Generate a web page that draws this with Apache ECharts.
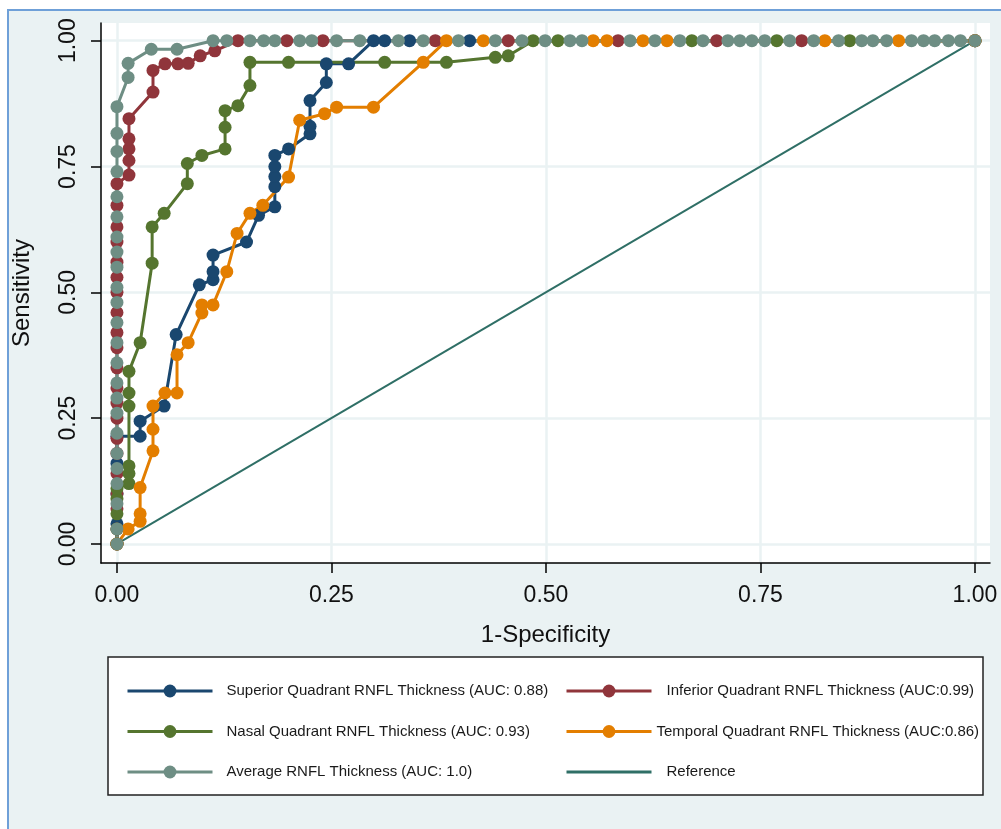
<!DOCTYPE html>
<html>
<head>
<meta charset="utf-8">
<title>ROC curves RNFL thickness</title>
<script src="https://cdn.jsdelivr.net/npm/echarts@6/dist/echarts.min.js"></script>
<style>
    html, body {margin: 0; padding: 0; background: #fff;}
    #roc_chart {width: 1001px; height: 829px;}
</style>
</head>
<body>
<div id="roc_chart"></div>
<script>
// tick positions on both axes
var tickValues = [0, 0.25, 0.5, 0.75, 1];

// Superior quadrant (1-specificity / sensitivity)
var superiorX = [0, 0, 0, 0, 0, 0.027, 0.027, 0.055, 0.069, 0.096, 0.112, 0.112, 0.112, 0.151, 0.165, 0.184, 0.184, 0.184, 0.184, 0.184, 0.2, 0.225, 0.225, 0.225, 0.244, 0.244, 0.27, 0.299, 0.312, 0.341, 0.411, 1];
var superiorY = [0, 0.04, 0.1, 0.16, 0.214, 0.214, 0.244, 0.274, 0.416, 0.515, 0.525, 0.541, 0.574, 0.6, 0.653, 0.67, 0.71, 0.73, 0.75, 0.772, 0.785, 0.815, 0.83, 0.881, 0.917, 0.954, 0.954, 1, 1, 1, 1, 1];

// Inferior quadrant
var inferiorX = [0, 0, 0, 0, 0, 0, 0, 0, 0, 0, 0, 0, 0, 0, 0, 0, 0, 0, 0, 0, 0, 0.014, 0.014, 0.014, 0.014, 0.014, 0.042, 0.042, 0.056, 0.071, 0.083, 0.097, 0.114, 0.141, 0.198, 0.24, 0.371, 0.456, 0.584, 0.699, 0.798, 1];
var inferiorY = [0, 0.03, 0.07, 0.1, 0.14, 0.18, 0.21, 0.25, 0.28, 0.31, 0.35, 0.39, 0.42, 0.46, 0.5, 0.53, 0.56, 0.6, 0.63, 0.673, 0.716, 0.733, 0.762, 0.785, 0.805, 0.845, 0.898, 0.941, 0.954, 0.954, 0.955, 0.97, 0.98, 1, 1, 1, 1, 1, 1, 1, 1, 1];

// Nasal quadrant
var nasalX = [0, 0, 0, 0, 0, 0.014, 0.014, 0.014, 0.014, 0.014, 0.014, 0.027, 0.041, 0.041, 0.055, 0.082, 0.082, 0.099, 0.126, 0.126, 0.126, 0.141, 0.155, 0.155, 0.2, 0.312, 0.384, 0.441, 0.456, 0.485, 0.514, 0.67, 0.769, 0.854, 1];
var nasalY = [0, 0.03, 0.06, 0.09, 0.11, 0.12, 0.14, 0.155, 0.274, 0.3, 0.343, 0.4, 0.558, 0.63, 0.657, 0.716, 0.756, 0.772, 0.785, 0.828, 0.861, 0.871, 0.911, 0.957, 0.957, 0.957, 0.957, 0.967, 0.97, 1, 1, 1, 1, 1, 1];

// Temporal quadrant
var temporalX = [0, 0.013, 0.027, 0.027, 0.027, 0.042, 0.042, 0.042, 0.056, 0.07, 0.07, 0.083, 0.099, 0.099, 0.112, 0.128, 0.14, 0.155, 0.17, 0.2, 0.213, 0.242, 0.256, 0.299, 0.357, 0.384, 0.427, 0.555, 0.571, 0.613, 0.641, 0.825, 0.911, 1];
var temporalY = [0, 0.03, 0.045, 0.06, 0.112, 0.185, 0.228, 0.274, 0.3, 0.3, 0.376, 0.4, 0.459, 0.475, 0.475, 0.541, 0.617, 0.657, 0.673, 0.729, 0.842, 0.855, 0.868, 0.868, 0.957, 1, 1, 1, 1, 1, 1, 1, 1, 1];

// Average RNFL
var averageX = [0, 0, 0, 0, 0, 0, 0, 0, 0, 0, 0, 0, 0, 0, 0, 0, 0, 0, 0, 0, 0, 0, 0, 0, 0.013, 0.013, 0.04, 0.07,
    0.112, 0.128, 0.155, 0.171, 0.184, 0.213, 0.227, 0.256, 0.283, 0.328, 0.357, 0.398, 0.441, 0.472, 0.499, 0.528, 0.542, 0.598, 0.627,
    0.656, 0.683, 0.712, 0.726, 0.74, 0.755, 0.784, 0.812, 0.841, 0.868, 0.881, 0.897, 0.926, 0.94, 0.953, 0.969, 0.983, 1];
var averageY = [0, 0.03, 0.08, 0.12, 0.15, 0.18, 0.22, 0.26, 0.29, 0.32, 0.36, 0.4, 0.44, 0.48, 0.51, 0.55, 0.58, 0.61, 0.65, 0.69, 0.74, 0.78, 0.816, 0.869, 0.927, 0.955, 0.983, 0.983,
    1, 1, 1, 1, 1, 1, 1, 1, 1, 1, 1, 1, 1, 1, 1, 1, 1, 1, 1,
    1, 1, 1, 1, 1, 1, 1, 1, 1, 1, 1, 1, 1, 1, 1, 1, 1, 1];

// diagonal reference
var referenceX = [0, 1];
var referenceY = [0, 1];

var seriesNames = [
    'Superior Quadrant RNFL Thickness (AUC: 0.88)',
    'Inferior Quadrant RNFL Thickness (AUC:0.99)',
    'Nasal Quadrant RNFL Thickness (AUC: 0.93)',
    'Temporal Quadrant RNFL Thickness (AUC:0.86)',
    'Average RNFL Thickness (AUC: 1.0)',
    'Reference'
];
var seriesColors = ['#1a476f', '#90353b', '#55752f', '#e37e00', '#6e8e84', '#2f6f66'];

var FONT = '"Liberation Sans", Arial, sans-serif';

/**
 * 把两个数组拼成 [x, y] 点
 */
function toPoints(xs, ys) {
    var pts = [];
    for (var i = 0; i < xs.length; i++) {
        pts.push([xs[i], ys[i]]);
    }
    return pts;
}

function rocSeries(idx, xs, ys) {
    return {
        name: seriesNames[idx],
        type: 'line',
        data: toPoints(xs, ys),
        symbol: 'circle',
        symbolSize: 13,
        showAllSymbol: true,
        itemStyle: {color: seriesColors[idx]},
        lineStyle: {color: seriesColors[idx], width: 3},
        animation: false
    };
}

function legendItem(name, pad, hideMarker) {
    var item = {name: name, textStyle: {padding: [0, 0, 0, pad]}};
    if (hideMarker) {
        // 参考线图例只画线
        item.itemStyle = {color: 'rgba(0,0,0,0)', borderWidth: 0, opacity: 0};
    }
    return item;
}

var chartDom = document.getElementById('roc_chart');
var myChart = echarts.init(chartDom, null, {renderer: 'canvas'});

// 背景网格线
var gridLines = [];
for (var i = 0; i < tickValues.length; i++) {
    gridLines.push({xAxis: tickValues[i]});
    gridLines.push({yAxis: tickValues[i]});
}

var option = {
    backgroundColor: '#eaf2f3',
    animation: false,
    graphic: [
        {type: 'rect', z: 0, shape: {x: 0, y: 0, width: 1001, height: 10}, style: {fill: '#fff'}},
        {type: 'rect', z: 0, shape: {x: 0, y: 0, width: 8, height: 829}, style: {fill: '#fff'}},
        {type: 'rect', z: 0, shape: {x: 8, y: 10, width: 1010, height: 840}, style: {fill: 'none', stroke: '#6fa0d8', lineWidth: 2}},
        {type: 'rect', z: 1, shape: {x: 108, y: 657, width: 875, height: 138}, style: {fill: '#fff', stroke: '#222', lineWidth: 1.5}}
    ],
    grid: {
        left: 101, top: 23, width: 889, height: 540,
        show: true, backgroundColor: '#fff', borderWidth: 0
    },
    legend: [{
        left: 121, top: 678, orient: 'vertical',
        itemWidth: 85, itemHeight: 16, itemGap: 24.5,
        lineStyle: {width: 3},
        textStyle: {fontFamily: FONT, fontSize: 15, color: '#1a1a1a', lineHeight: 16, padding: [0, 0, 0, 9]},
        data: [seriesNames[0], seriesNames[2], seriesNames[4]]
    }, {
        left: 560, top: 678, orient: 'vertical',
        itemWidth: 85, itemHeight: 16, itemGap: 24.5,
        lineStyle: {width: 3},
        textStyle: {fontFamily: FONT, fontSize: 15, color: '#1a1a1a', lineHeight: 16},
        data: [legendItem(seriesNames[1], 10), legendItem(seriesNames[3], 0), legendItem(seriesNames[5], 10, true)]
    }],
    xAxis: {
        type: 'value', min: -0.0186, max: 1.0175,
        name: '1-Specificity', nameLocation: 'middle', nameGap: 60,
        nameTextStyle: {fontFamily: FONT, fontSize: 24, color: '#111'},
        axisLine: {onZero: false, lineStyle: {color: '#000', width: 1.5}},
        axisTick: {customValues: tickValues, length: 10, lineStyle: {color: '#000', width: 1.5}},
        axisLabel: {customValues: tickValues, margin: 21, fontFamily: FONT, fontSize: 23, color: '#111',
            formatter: function (v) { return v.toFixed(2); }},
        splitLine: {show: false}
    },
    yAxis: {
        type: 'value', min: -0.0378, max: 1.0352,
        name: 'Sensitivity', nameLocation: 'middle', nameGap: 67, nameRotate: 90,
        nameTextStyle: {fontFamily: FONT, fontSize: 24, color: '#111'},
        axisLine: {show: true, onZero: false, lineStyle: {color: '#000', width: 1.5}},
        axisTick: {show: true, customValues: tickValues, length: 10, lineStyle: {color: '#000', width: 1.5}},
        axisLabel: {customValues: tickValues, margin: 21, rotate: 90, fontFamily: FONT, fontSize: 23, color: '#111',
            formatter: function (v) { return v.toFixed(2); }},
        splitLine: {show: false}
    },
    series: [
        rocSeries(0, superiorX, superiorY),
        rocSeries(1, inferiorX, inferiorY),
        rocSeries(2, nasalX, nasalY),
        rocSeries(3, temporalX, temporalY),
        rocSeries(4, averageX, averageY),
        {
            name: seriesNames[5],
            type: 'line',
            data: toPoints(referenceX, referenceY),
            symbol: 'none',
            itemStyle: {color: seriesColors[5]},
            lineStyle: {color: seriesColors[5], width: 2},
            z: 1,
            markLine: {
                silent: true, symbol: 'none', z: 0,
                label: {show: false},
                lineStyle: {color: '#eaf2f3', width: 2.5, type: 'solid'},
                data: gridLines
            },
            animation: false
        }
    ]
};

if (option && typeof option === "object") {
    myChart.setOption(option, true);
}
</script>
</body>
</html>
